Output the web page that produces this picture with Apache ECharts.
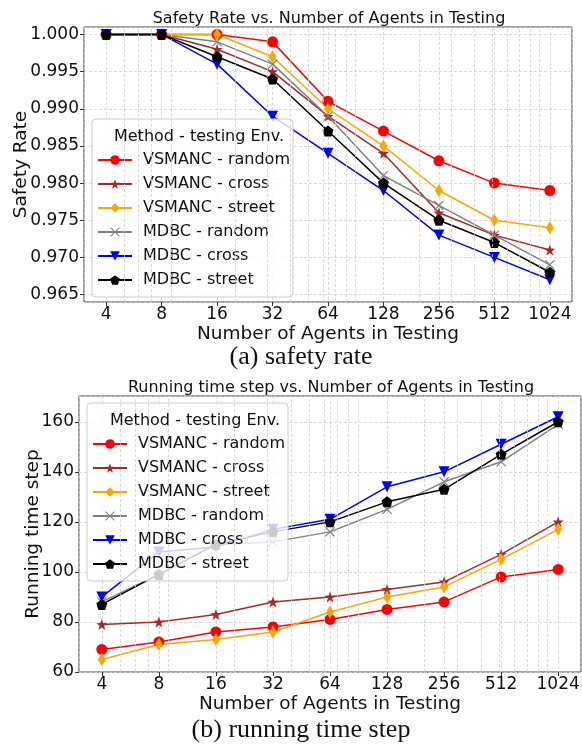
<!DOCTYPE html>
<html>
<head>
<meta charset="utf-8">
<script src="https://cdn.jsdelivr.net/npm/echarts@6/dist/echarts.min.js"></script>
<style>
html, body { margin: 0; padding: 0; background: #fff; }
#main { width: 582px; height: 746px; }
</style>
</head>
<body>
<div id="main"></div>
<script>
// x values (log axis) and minor grid positions
const agents = [4, 8, 16, 32, 64, 128, 256, 512, 1024];
const minorTicks = [5, 6, 7, 9, 20, 30, 40, 50, 60, 70, 80, 90, 200, 300, 400, 500, 600, 700, 800, 900];

const methodNames = ['VSMANC - random', 'VSMANC - cross', 'VSMANC - street',
                     'MDBC - random', 'MDBC - cross', 'MDBC - street'];

// (a) safety rate
const safetyVsmancRandom = [1.000, 1.000, 1.000, 0.999, 0.991, 0.987, 0.983, 0.980, 0.979];
const safetyVsmancCross  = [1.000, 1.000, 0.998, 0.995, 0.989, 0.984, 0.976, 0.973, 0.971];
const safetyVsmancStreet = [1.000, 1.000, 1.000, 0.997, 0.990, 0.985, 0.979, 0.975, 0.974];
const safetyMdbcRandom   = [1.000, 1.000, 0.999, 0.996, 0.989, 0.981, 0.977, 0.973, 0.969];
const safetyMdbcCross    = [1.000, 1.000, 0.996, 0.989, 0.984, 0.979, 0.973, 0.970, 0.967];
const safetyMdbcStreet   = [1.000, 1.000, 0.997, 0.994, 0.987, 0.980, 0.975, 0.972, 0.968];

// (b) running time step
const stepVsmancRandom = [69, 72, 76, 78, 81, 85, 88, 98, 101];
const stepVsmancCross  = [79, 80, 83, 88, 90, 93, 96, 107, 120];
const stepVsmancStreet = [65, 71, 73, 76, 84, 90, 94, 105, 117];
const stepMdbcRandom   = [88, 99, 111, 112, 116, 125, 136, 144, 159];
const stepMdbcCross    = [90, 108, 110, 117, 121, 134, 140, 151, 162];
const stepMdbcStreet   = [87, 99, 111, 116, 120, 128, 133, 147, 160];

function polyPath(n, inner) {
    let pts = [];
    let count = inner ? n * 2 : n;
    for (let i = 0; i < count; i++) {
        let r = (inner && i % 2) ? inner : 1;
        let a = -Math.PI / 2 + i * 2 * Math.PI / count;
        pts.push((50 + 50 * r * Math.cos(a)).toFixed(1) + ',' + (50 + 50 * r * Math.sin(a)).toFixed(1));
    }
    return 'path://M' + pts.join('L') + 'Z';
}
const starSym = polyPath(5, 0.4);
const pentSym = polyPath(5);
const xSym = 'path://M0,8L8,0L50,42L92,0L100,8L58,50L100,92L92,100L50,58L8,100L0,92L42,50Z';

const styles = [
    { color: '#ff0000', symbol: 'circle', size: 11 },
    { color: '#a52a2a', symbol: starSym, size: 11 },
    { color: '#ffa500', symbol: 'diamond', size: [8, 13] },
    { color: '#808080', symbol: xSym, size: 10 },
    { color: '#0000ff', symbol: 'triangle', size: 11, rotate: 180 },
    { color: '#000000', symbol: pentSym, size: 11 }
];

const safetySets = [safetyVsmancRandom, safetyVsmancCross, safetyVsmancStreet,
                    safetyMdbcRandom, safetyMdbcCross, safetyMdbcStreet];
const stepSets = [stepVsmancRandom, stepVsmancCross, stepVsmancStreet,
                  stepMdbcRandom, stepMdbcCross, stepMdbcStreet];

const gridColor = '#cfcfcf';
const font = 'DejaVu Sans';

function makeSeries(sets, idx) {
    return sets.map((vals, i) => ({
        name: methodNames[i],
        type: 'line',
        xAxisIndex: idx,
        yAxisIndex: idx,
        data: agents.map((a, k) => [a, vals[k]]),
        symbol: styles[i].symbol,
        symbolSize: styles[i].size,
        symbolRotate: styles[i].rotate || 0,
        showAllSymbol: true,
        lineStyle: { color: styles[i].color, width: 1.5 },
        itemStyle: { color: styles[i].color },
        z: 3
    }));
}

function minorGrid(idx) {
    return {
        type: 'line',
        xAxisIndex: idx,
        yAxisIndex: idx,
        data: [],
        silent: true,
        z: 1,
        markLine: {
            silent: true,
            symbol: 'none',
            animation: false,
            label: { show: false },
            lineStyle: { color: gridColor, type: [3, 2], width: 0.8 },
            data: minorTicks.map(v => ({ xAxis: v }))
        }
    };
}

function xAxisOpt(idx) {
    return {
        type: 'log',
        logBase: 2,
        gridIndex: idx,
        min: 4 / Math.pow(2, 0.4),
        max: 1024 * Math.pow(2, 0.4),
        name: 'Number of Agents in Testing',
        nameLocation: 'middle',
        nameGap: 23,
        nameMoveOverlap: false,
        nameTextStyle: { fontFamily: font, fontSize: 18.5, color: '#111' },
        axisLine: { show: false },
        axisTick: { show: true, length: 4, lineStyle: { color: '#333' } },
        axisLabel: { fontFamily: font, fontSize: 17, color: '#111', margin: 4,
                     showMinLabel: false, showMaxLabel: false,
                     formatter: v => String(Math.round(v)) },
        splitLine: { show: true, lineStyle: { color: gridColor, type: [3, 2], width: 0.8 } },
        minorTick: { show: false }
    };
}

function legendOpt(left, top) {
    return {
        orient: 'vertical',
        left: left,
        top: top,
        data: methodNames,
        itemWidth: 34,
        itemHeight: 12,
        itemGap: 6,
        padding: [32, 3, 8, 5],
        backgroundColor: 'rgba(255,255,255,0.8)',
        borderColor: '#cccccc',
        borderWidth: 1,
        borderRadius: 4,
        textStyle: { fontFamily: font, fontSize: 16, color: '#111', lineHeight: 18,
                     padding: [0, 0, 0, 6] },
        selectedMode: false
    };
}

let myChart = echarts.init(document.getElementById('main'));
let option = {
    backgroundColor: '#ffffff',
    animation: false,
    title: [
        { text: 'Safety Rate vs. Number of Agents in Testing', left: 324, top: 6, textAlign: 'center',
          textStyle: { fontFamily: font, fontSize: 16, fontWeight: 'normal', color: '#111' } },
        { text: '(a) safety rate', left: 296, top: 339, textAlign: 'center',
          textStyle: { fontFamily: 'Liberation Serif', fontSize: 26, fontWeight: 'normal', color: '#111' } },
        { text: 'Running time step vs. Number of Agents in Testing', left: 326, top: 375, textAlign: 'center',
          textStyle: { fontFamily: font, fontSize: 16, fontWeight: 'normal', color: '#111' } },
        { text: '(b) running time step', left: 296, top: 712, textAlign: 'center',
          textStyle: { fontFamily: 'Liberation Serif', fontSize: 26, fontWeight: 'normal', color: '#111' } },
        { text: 'Method - testing Env.', left: 194, top: 124, textAlign: 'center',
          textStyle: { fontFamily: font, fontSize: 16, fontWeight: 'normal', color: '#111' } },
        { text: 'Method - testing Env.', left: 190, top: 408, textAlign: 'center',
          textStyle: { fontFamily: font, fontSize: 16, fontWeight: 'normal', color: '#111' } }
    ],
    grid: [
        { left: 84, right: 10, top: 27, height: 275, show: true, borderColor: '#444', borderWidth: 1,
          outerBoundsMode: 'none' },
        { left: 79, right: 1, top: 396, height: 276, show: true, borderColor: '#444', borderWidth: 1,
          outerBoundsMode: 'none' }
    ],
    legend: [legendOpt(92, 119), legendOpt(87, 403)],
    xAxis: [xAxisOpt(0), xAxisOpt(1)],
    yAxis: [
        {
            type: 'value', gridIndex: 0, min: 0.964, max: 1.001, splitNumber: 7,
            name: 'Safety Rate', nameLocation: 'middle', nameGap: 53, nameMoveOverlap: false,
            nameTextStyle: { fontFamily: font, fontSize: 18.5, color: '#111' },
            axisLine: { show: false },
            axisTick: { show: true, length: 4, lineStyle: { color: '#333' } },
            axisLabel: { fontFamily: font, fontSize: 17, color: '#111', margin: 5,
                         showMinLabel: false, showMaxLabel: false,
                         formatter: v => v.toFixed(3) },
            splitLine: { show: true, lineStyle: { color: gridColor, type: [3, 2], width: 0.8 } }
        },
        {
            type: 'value', gridIndex: 1, min: 60, max: 170.3, interval: 20,
            name: 'Running time step', nameLocation: 'middle', nameGap: 36, nameMoveOverlap: false,
            nameTextStyle: { fontFamily: font, fontSize: 18.5, color: '#111' },
            axisLine: { show: false },
            axisTick: { show: true, length: 4, lineStyle: { color: '#333' } },
            axisLabel: { fontFamily: font, fontSize: 17, color: '#111', margin: 5,
                         showMaxLabel: false },
            splitLine: { show: true, lineStyle: { color: gridColor, type: [3, 2], width: 0.8 } }
        }
    ],
    series: [minorGrid(0), minorGrid(1)]
        .concat(makeSeries(safetySets, 0))
        .concat(makeSeries(stepSets, 1))
};
myChart.setOption(option);
</script>
</body>
</html>
